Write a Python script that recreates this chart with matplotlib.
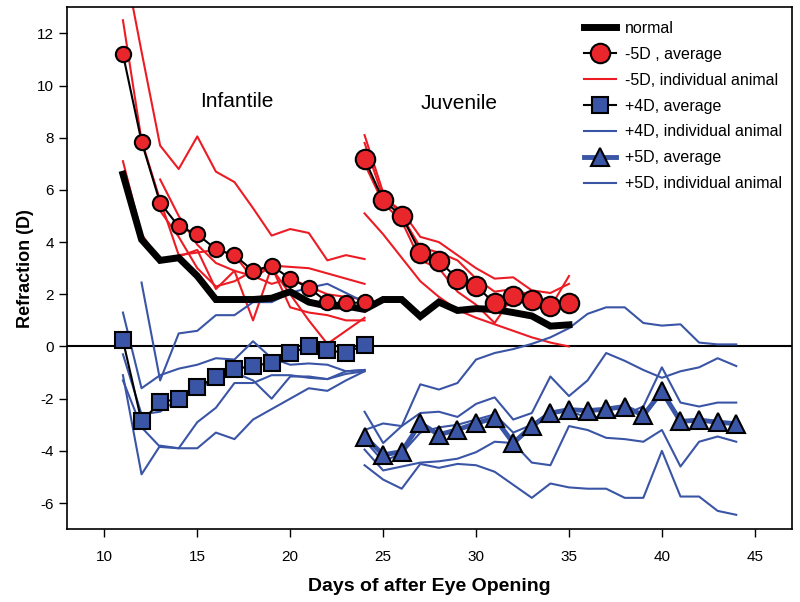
import numpy as np
import matplotlib.pyplot as plt

plt.rcParams['font.family'] = ['Liberation Sans', 'DejaVu Sans']
plt.rcParams['axes.unicode_minus'] = False

red = '#ec1c24'
blue = '#3a55a5'

# days
days_normal = list(range(11, 36))
days_inf = list(range(11, 25))
days_juv = list(range(24, 36))
days_juv5 = list(range(24, 45))

normal = [6.6, 4.1, 3.3, 3.4, 2.7, 1.8, 1.8, 1.8, 1.85, 2.1, 1.7, 1.55, 1.55, 1.42,
          1.8, 1.8, 1.15, 1.7, 1.38, 1.45, 1.42, 1.3, 1.17, 0.78, 0.83]

# -5D average, infantile and juvenile
m5_avg_inf = [11.2, 7.85, 5.5, 4.6, 4.3, 3.73, 3.5, 2.9, 3.1, 2.6, 2.25, 1.7, 1.65, 1.7]
m5_avg_juv = [7.19, 5.6, 5.0, 3.6, 3.28, 2.6, 2.32, 1.65, 1.95, 1.8, 1.55, 1.65]

# -5D individual animals
m5_ind_inf = [
    (11, [15.0, 11.3, 7.7, 6.8, 8.05, 6.7, 6.3, 5.3, 4.25, 4.5, 4.35, 3.3, 3.5, 3.35]),
    (11, [12.5, 7.9, 5.6, 3.5, 3.6, 3.7, 3.5, 2.6, 3.1, 3.05, 3.0, 2.8, 2.6, 2.4]),
    (11, [7.1, 4.3, 3.3, 3.45, 3.7, 2.2, 2.9, 1.0, 3.05, 1.5, 1.3, 1.2, 1.0, 1.0]),
    (13, [6.4, 5.0, 3.9, 3.2, 2.9, 2.7, 2.4, 2.6, 2.3, 2.0, 1.9, 1.8]),
    (13, [5.2, 4.2, 3.0, 2.3, 2.5, 2.9, 3.0, 2.0, 1.0, 0.1, 0.6, 1.1]),
]
m5_ind_juv = [
    (24, [8.1, 5.9, 5.0, 3.8, 3.6, 3.3, 2.6, 2.1, 2.2, 1.95, 1.5, 2.7]),
    (24, [7.8, 5.7, 5.2, 4.2, 4.0, 3.5, 3.0, 2.6, 2.65, 2.15, 2.05, 2.4]),
    (24, [7.0, 5.5, 4.8, 3.3, 3.0, 2.1, 1.6, 0.9, 1.95, 1.7, 1.4, 1.6]),
    (24, [5.1, 4.3, 3.4, 2.5, 1.9, 1.4, 1.1, 0.85, 0.6, 0.35, 0.15, 0.0]),
]

# +4D
p4_avg = [0.23, -2.87, -2.14, -2.0, -1.57, -1.17, -0.87, -0.74, -0.63, -0.25, 0.0, -0.15, -0.24, 0.06]
p4_ind = [
    (12, [2.45, -1.3, 0.5, 0.6, 1.2, 1.2, 1.7, 1.7, 2.05, 2.25, 2.4, 2.05, 1.7]),
    (11, [1.3, -1.6, -1.1, -0.85, -0.7, -0.45, -0.5, 0.2, -0.45, -0.7, -0.65, -0.7, -0.95, -0.9]),
    (11, [-0.3, -2.6, -2.5, -2.0, -1.6, -1.3, -1.0, -1.3, -2.0, -1.15, -1.15, -1.25, -0.95, -0.9]),
    (11, [-1.1, -4.9, -3.8, -3.9, -2.9, -2.35, -1.4, -1.4, -1.1, -1.1, -1.2, -1.25, -1.05, -0.95]),
    (11, [-1.3, -3.1, -3.85, -3.9, -3.9, -3.3, -3.55, -2.8, -2.4, -2.0, -1.6, -1.7, -1.3, -0.95]),
]

# +5D
p5_avg = [-3.45, -4.15, -4.03, -2.94, -3.38, -3.19, -2.94, -2.74, -3.7, -3.06, -2.55,
          -2.42, -2.46, -2.4, -2.3, -2.64, -1.72, -2.87, -2.82, -2.9, -2.96]
p5_ind = [
    [-2.5, -3.7, -3.05, -1.45, -1.65, -1.4, -0.5, -0.25, -0.1, 0.1, 0.35, 0.7, 1.25, 1.5, 1.5, 0.9, 0.8, 0.85, 0.15, 0.08, 0.08],
    [-3.2, -2.95, -3.05, -2.55, -2.5, -2.7, -2.2, -1.95, -2.8, -2.55, -1.15, -1.9, -1.3, -0.25, -0.55, -0.9, -1.2, -0.95, -0.8, -0.45, -0.75],
    [-3.6, -4.4, -4.1, -3.3, -3.1, -3.0, -2.8, -2.6, -3.3, -3.0, -2.5, -2.5, -2.7, -2.7, -2.6, -2.3, -0.8, -2.15, -2.3, -2.15, -2.15],
    [-3.95, -4.75, -4.6, -4.45, -4.4, -4.3, -4.05, -3.65, -3.7, -4.45, -4.55, -3.05, -3.2, -3.5, -3.55, -3.65, -3.2, -4.6, -3.65, -3.45, -3.65],
    [-4.55, -5.1, -5.45, -4.5, -4.65, -4.5, -4.55, -4.8, -5.3, -5.8, -5.25, -5.4, -5.45, -5.45, -5.8, -5.8, -4.0, -5.75, -5.75, -6.3, -6.45],
]

fig = plt.figure(figsize=(8, 6.02), dpi=100)
ax = fig.add_axes([0.084, 0.121, 0.906, 0.867])

ax.axhline(0, color='black', lw=1.5, zorder=1)

# individual animals
for start, vals in m5_ind_inf:
    h_m5_ind, = ax.plot(range(start, start + len(vals)), vals, color=red, lw=1.5, zorder=2)
for start, vals in m5_ind_juv:
    ax.plot(range(start, start + len(vals)), vals, color=red, lw=1.5, zorder=2)
for start, vals in p4_ind:
    h_p4_ind, = ax.plot(range(start, start + len(vals)), vals, color=blue, lw=1.5, zorder=2)
for vals in p5_ind:
    h_p5_ind, = ax.plot(days_juv5, vals, color=blue, lw=1.5, zorder=2)

h_normal, = ax.plot(days_normal, normal, color='black', lw=5, zorder=3, solid_joinstyle='miter')

# averages
ax.plot(days_inf, m5_avg_inf, color='black', lw=1.5, marker='o', ms=11,
        mfc='#e8262b', mec='black', mew=1.5, zorder=5)
h_m5_avg, = ax.plot(days_juv, m5_avg_juv, color='black', lw=1.5, marker='o', ms=14,
                    mfc='#e8262b', mec='black', mew=1.5, zorder=5)
h_p4_avg, = ax.plot(days_inf, p4_avg, color='black', lw=1.5, marker='s', ms=12,
                    mfc=blue, mec='black', mew=1.5, zorder=5)
h_p5_avg, = ax.plot(days_juv5, p5_avg, color=blue, lw=3.5, marker='^', ms=13,
                    mfc=blue, mec='black', mew=1.5, zorder=5)

ax.text(17.1, 9.4, 'Infantile', fontsize=15, ha='center', va='center')
ax.text(29.1, 9.3, 'Juvenile', fontsize=15, ha='center', va='center')

ax.set_xlim(8, 47)
ax.set_ylim(-7, 13)
ax.set_xticks(range(10, 46, 5))
ax.set_yticks(range(-6, 13, 2))
ax.tick_params(labelsize=11, direction='out', length=6, width=1)
ax.tick_params(axis='x', pad=9)
for s in ax.spines.values():
    s.set_linewidth(1.2)

ax.set_xlabel('Days of after Eye Opening', fontsize=14, fontweight='bold', labelpad=10)
ax.set_ylabel('Refraction (D)', fontsize=13, fontweight='bold', labelpad=2)

handles = [h_normal, h_m5_avg, h_m5_ind, h_p4_avg, h_p4_ind, h_p5_avg, h_p5_ind]
labels = ['normal', '-5D , average', '-5D, individual animal', '+4D, average',
          '+4D, individual animal', '+5D, average', '+5D, individual animal']
ax.legend(handles, labels, loc='upper right', frameon=False, fontsize=11.5,
          handlelength=2.0, handletextpad=0.6, labelspacing=0.68,
          borderaxespad=0.2, bbox_to_anchor=(1.0, 0.992))

fig.savefig('out.png', dpi=100)
